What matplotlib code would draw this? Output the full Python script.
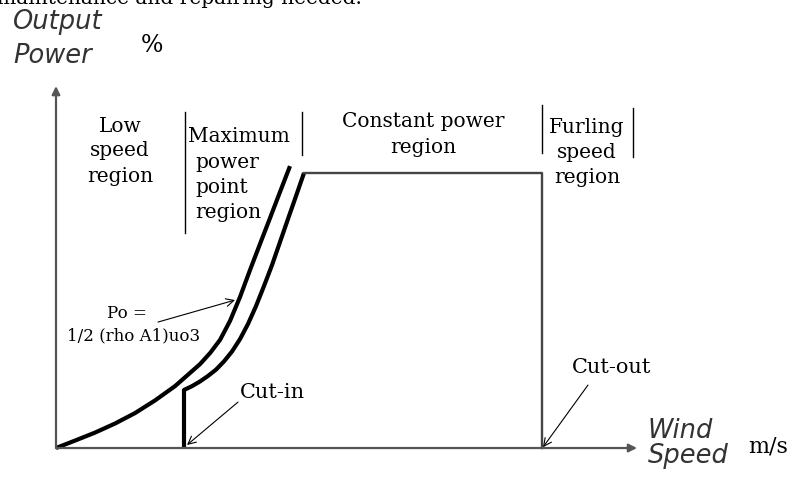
import matplotlib
matplotlib.use("Agg")
from matplotlib import pyplot as plt

# power curve sketch, x = wind speed (arbitrary units), y = output power in %
low_x = [0, 1.9, 3.9, 5.9, 7.9, 9.9, 11.9, 13.4, 14.4, 15.4, 16.4, 17.4, 18.4, 19.4, 20.4, 21.4, 22.4, 23.4]
low_y = [0, 2.7, 5.6, 8.9, 12.7, 17.3, 22.5, 27.3, 30.5, 34.5, 39.3, 46.2, 54.9, 64.7, 74.2, 83.6, 93.1, 102.5]

ramp_x = [12.8, 12.8, 13.6, 14.4, 15.2, 16.0, 16.8, 17.6, 18.4, 19.2, 20.0, 20.8, 21.6, 22.4, 23.2, 24.0, 24.8]
ramp_y = [0, 21.1, 22.5, 24.2, 26.2, 28.5, 31.5, 35.1, 39.6, 45.1, 51.6, 58.9, 66.5, 74.9, 83.3, 91.6, 100]

rated_x = [24.8, 48.6, 48.6]
rated_y = [100, 100, 0]

x_end = 58.1
y_end = 131.6

# region dividers: (x, y bottom, y top)
dividers = [(12.9, 78.2, 122.2), (24.6, 106.5, 122.2), (48.6, 107.3, 124.7), (57.7, 105.8, 123.6)]

serif = "DejaVu Serif"
sans = "DejaVu Sans"

fig = plt.figure(figsize=(8.01, 4.78), dpi=100)
ax = fig.add_axes([0, 0, 1, 1])
ax.set_xlim(-5.6, 74.5)
ax.set_ylim(-10.9, 162.9)
ax.axis("off")

# axes with arrows
ax.annotate("", xy=(0, y_end), xytext=(0, 0),
            arrowprops=dict(arrowstyle="-|>", color="#555555", lw=1.6, mutation_scale=12, shrinkA=0, shrinkB=0))
ax.annotate("", xy=(x_end, 0), xytext=(0, 0),
            arrowprops=dict(arrowstyle="-|>", color="#555555", lw=1.6, mutation_scale=12, shrinkA=0, shrinkB=0))

ax.plot(low_x, low_y, color="black", lw=3, solid_capstyle="butt", solid_joinstyle="round")
ax.plot(ramp_x, ramp_y, color="black", lw=3, solid_capstyle="butt", solid_joinstyle="round")
ax.plot(rated_x, rated_y, color="#444444", lw=1.7)

for x, y0, y1 in dividers:
    ax.plot([x, x], [y0, y1], color="black", lw=1)

# labels
ax.text(-5.9, 161.6, "maintenance and repairing needed.", family=serif, fontsize=14.5, va="baseline")
ax.text(-4.3, 152.4, "Output", family=sans, style="italic", fontsize=18.5, color="#333333", va="baseline")
ax.text(-4.3, 140.0, "Power", family=sans, style="italic", fontsize=18.5, color="#333333", va="baseline")
ax.text(9.6, 146.2, "%", family=serif, fontsize=17, ha="center", va="center")
ax.text(59.2, 3.6, "Wind", family=sans, style="italic", fontsize=18.5, color="#333333", va="baseline")
ax.text(59.2, -5.5, "Speed", family=sans, style="italic", fontsize=18.5, color="#333333", va="baseline")
ax.text(69.2, -1.8, "m/s", family=serif, fontsize=16, va="baseline")

for s, y in zip(["Low", "speed", "region"], [114.9, 106.2, 96.7]):
    ax.text(6.4, y, s, family=serif, fontsize=14.5, ha="center", va="baseline")
ax.text(13.2, 111.3, "Maximum", family=serif, fontsize=14.5, va="baseline")
for s, y in zip(["power", "point", "region"], [101.8, 92.7, 83.6]):
    ax.text(13.9, y, s, family=serif, fontsize=14.5, va="baseline")
for s, y in zip(["Constant power", "region"], [116.7, 107.3]):
    ax.text(36.7, y, s, family=serif, fontsize=14.5, ha="center", va="baseline")
for s, y in zip(["Furling", "speed", "region"], [114.5, 105.5, 96.4]):
    ax.text(53.1, y, s, family=serif, fontsize=14.5, ha="center", va="baseline")

ax.text(5.1, 47.3, "Po =", family=serif, fontsize=12, va="baseline")
ax.text(1.1, 39.3, "1/2 (rho A1)uo3", family=serif, fontsize=12, va="baseline")
ax.annotate("", xy=(17.9, 53.8), xytext=(10.2, 45.8),
            arrowprops=dict(arrowstyle="->", color="black", lw=0.8, mutation_scale=14, shrinkA=0, shrinkB=0))

ax.text(18.4, 18.2, "Cut-in", family=serif, fontsize=15, va="baseline")
ax.annotate("", xy=(13.1, 1.1), xytext=(18.2, 16.7),
            arrowprops=dict(arrowstyle="->", color="black", lw=0.8, mutation_scale=14, shrinkA=0, shrinkB=0))

ax.text(51.6, 27.3, "Cut-out", family=serif, fontsize=15, va="baseline")
ax.annotate("", xy=(48.7, 0.3), xytext=(53.2, 22.9),
            arrowprops=dict(arrowstyle="->", color="black", lw=0.8, mutation_scale=14, shrinkA=0, shrinkB=0))

fig.savefig("out.png", dpi=100)
